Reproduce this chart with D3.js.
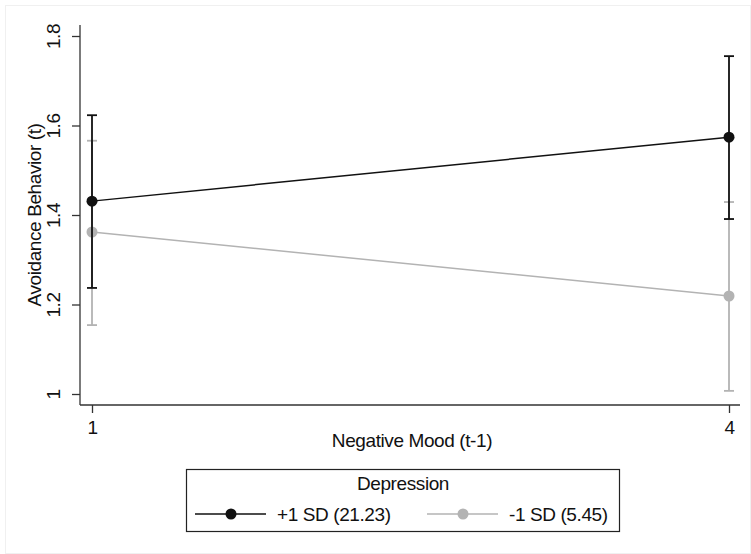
<!DOCTYPE html>
<html>
<head>
<meta charset="utf-8">
<script src="https://cdn.jsdelivr.net/npm/d3@7"></script>
<style>
body { margin: 0; background: #fff; }
text { font-family: "Liberation Sans", Arial, sans-serif; fill: #111; letter-spacing: -0.4px; }
</style>
</head>
<body>
<div id="chart"></div>
<script>
// x categories (negative mood at t-1)
const moodLevels = [1, 4];
const yTicks = [1, 1.2, 1.4, 1.6, 1.8];

// predicted avoidance behaviour, with CI bounds
const highDepMean = [1.431, 1.574];
const highDepLow = [1.237, 1.391];
const highDepHigh = [1.623, 1.755];

const lowDepMean = [1.362, 1.219];
const lowDepLow = [1.154, 1.007];
const lowDepHigh = [1.566, 1.429];

const seriesNames = ["+1 SD (21.23)", "-1 SD (5.45)"];
const seriesColors = ["#111111", "#b3b3b3"];

const W = 751, H = 554;
const fs = "19px";

const svg = d3.select("#chart")
.append("svg")
.attr("width", W)
.attr("height", H);

// faint outer frame
svg.append("rect")
.attr("x", 5.5).attr("y", 5.5)
.attr("width", W - 6).attr("height", H - 6)
.attr("fill", "none")
.attr("stroke", "#f0f0f0");

const x = d3.scaleLinear()
.domain([1, 4])
.range([92, 729]);

const y = d3.scaleLinear()
.domain([1, 1.8])
.range([394, 36]);

// y axis
const yAxis = svg.append("g")
.attr("transform", "translate(80,0)")
.call(d3.axisLeft(y).tickValues(yTicks).tickFormat(d3.format("")).tickSize(8).tickSizeOuter(0));
yAxis.select(".domain").attr("d", "M0,25V405").attr("stroke", "#333").attr("stroke-width", 1.3);
yAxis.selectAll(".tick line").attr("stroke", "#333").attr("stroke-width", 1.3);
yAxis.selectAll(".tick text")
.attr("transform", "rotate(-90)")
.attr("x", 0)
.attr("y", -20)
.attr("dy", "0")
.style("text-anchor", "middle")
.style("font-size", fs);

// x axis
const xAxis = svg.append("g")
.attr("transform", "translate(0,405)")
.call(d3.axisBottom(x).tickValues(moodLevels).tickFormat(d3.format("d")).tickSize(8).tickSizeOuter(0));
xAxis.select(".domain").attr("d", "M80,0H740").attr("stroke", "#333").attr("stroke-width", 1.3);
xAxis.selectAll(".tick line").attr("stroke", "#333").attr("stroke-width", 1.3);
xAxis.selectAll(".tick text")
.attr("y", 12)
.attr("dy", "0.9em")
.style("font-size", fs);

svg.append("text")
.attr("x", 412).attr("y", 447)
.attr("text-anchor", "middle")
.style("font-size", fs)
.text("Negative Mood (t-1)");

svg.append("text")
.attr("transform", "translate(41,215)rotate(-90)")
.attr("text-anchor", "middle")
.style("font-size", fs)
.text("Avoidance Behavior (t)");

const series = [
	{mean: lowDepMean, low: lowDepLow, high: lowDepHigh, color: seriesColors[1]},
	{mean: highDepMean, low: highDepLow, high: highDepHigh, color: seriesColors[0]}
];

const line = d3.line()
.x((d, i) => x(moodLevels[i]))
.y(d => y(d));

series.forEach(s => {
	const g = svg.append("g");
	const pts = moodLevels.map((m, i) => ({m: m, mean: s.mean[i], lo: s.low[i], hi: s.high[i]}));

	g.selectAll(".ci")
	.data(pts)
	.join("line")
	.attr("x1", d => x(d.m)).attr("x2", d => x(d.m))
	.attr("y1", d => y(d.lo)).attr("y2", d => y(d.hi))
	.attr("stroke", s.color).attr("stroke-width", 1.8);

	["lo", "hi"].forEach(k => {
		g.selectAll(".cap" + k)
		.data(pts)
		.join("line")
		.attr("x1", d => x(d.m) - 5).attr("x2", d => x(d.m) + 5)
		.attr("y1", d => y(d[k])).attr("y2", d => y(d[k]))
		.attr("stroke", s.color).attr("stroke-width", 1.8);
	});

	g.append("path")
	.datum(s.mean)
	.attr("d", line)
	.attr("fill", "none")
	.attr("stroke", s.color)
	.attr("stroke-width", 1.5);

	g.selectAll("circle")
	.data(pts)
	.join("circle")
	.attr("cx", d => x(d.m))
	.attr("cy", d => y(d.mean))
	.attr("r", 5.5)
	.attr("fill", s.color);
});

// legend
const legend = svg.append("g");
legend.append("rect")
.attr("x", 186.5).attr("y", 469.5)
.attr("width", 433).attr("height", 62)
.attr("fill", "#fff")
.attr("stroke", "#222")
.attr("stroke-width", 1.2);

legend.append("text")
.attr("x", 403).attr("y", 490)
.attr("text-anchor", "middle")
.style("font-size", fs)
.text("Depression");

const legendX = [195, 427];
seriesNames.forEach((name, i) => {
	const lx = legendX[i];
	legend.append("line")
	.attr("x1", lx).attr("x2", lx + 71)
	.attr("y1", 514).attr("y2", 514)
	.attr("stroke", seriesColors[i]).attr("stroke-width", 1.5);
	legend.append("circle")
	.attr("cx", lx + 36).attr("cy", 514)
	.attr("r", 5.5)
	.attr("fill", seriesColors[i]);
	legend.append("text")
	.attr("x", lx + 82).attr("y", 521)
	.style("font-size", fs)
	.text(name);
});
</script>
</body>
</html>
